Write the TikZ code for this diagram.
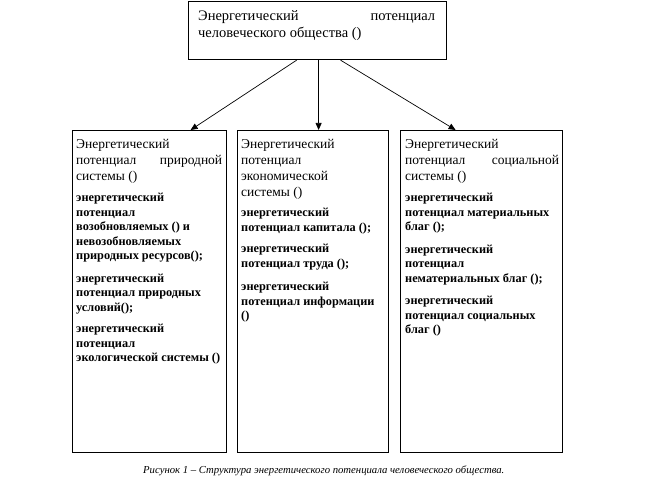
\documentclass[tikz,border=0pt]{standalone}
\usepackage{fontspec}
\setmainfont{Liberation Serif}
\usetikzlibrary{arrows.meta}
\setlength{\parindent}{0pt}
\newcommand{\regf}{\fontsize{13.5pt}{16pt}\selectfont}
\newcommand{\bldf}{\bfseries\fontsize{12.3pt}{14.5pt}\selectfont}
\newcommand{\topf}{\fontsize{14.5pt}{17pt}\selectfont}
\begin{document}
\begin{tikzpicture}[x=1pt,y=-1pt,
  box/.style={draw, line width=1.2pt, inner sep=0pt, anchor=north west},
  txt/.style={anchor=north west, inner sep=0pt, align=justify},
  arr/.style={-{Triangle[length=7pt,width=6pt]}, line width=0.7pt},
]
\useasboundingbox (0,0) rectangle (649,495);
\node[box, minimum width=258pt, minimum height=58pt] (top) at (188,1) {};
\node[txt, text width=237pt] (toptxt) at (198,10)
  {\topf Энергетический\hfill потенциал\\ человеческого общества ()\par};

\node[box, minimum width=154pt, minimum height=322pt] (lbox) at (72,130) {};
\node[box, minimum width=151pt, minimum height=322pt] (mbox) at (237,130) {};
\node[box, minimum width=162pt, minimum height=322pt] (rbox) at (400,130) {};

\node[txt, text width=146pt] (ltxt) at (76,139) {%
{\regf Энергетический\\ потенциал\hfill природной\\ системы ()\par}
\vspace{7pt}
{\bldf энергетический\\ потенциал\\ возобновляемых () и\\ невозобновляемых\\ природных ресурсов();\par}
\vspace{8pt}
{\bldf энергетический\\ потенциал природных\\ условий();\par}
\vspace{7pt}
{\bldf энергетический\\ потенциал\\ экологической системы ()\par}};

\node[txt, text width=143pt] (mtxt) at (241,139) {%
{\regf Энергетический\\ потенциал\\ экономической\\ системы ()\par}
\vspace{6pt}
{\bldf энергетический\\ потенциал капитала ();\par}
\vspace{7pt}
{\bldf энергетический\\ потенциал труда ();\par}
\vspace{9pt}
{\bldf энергетический\\ потенциал информации\\ ()\par}};

\node[txt, text width=154pt] (rtxt) at (405,139) {%
{\regf Энергетический\\ потенциал\hfill социальной\\ системы ()\par}
\vspace{7pt}
{\bldf энергетический\\ потенциал материальных\\ благ ();\par}
\vspace{8pt}
{\bldf энергетический\\ потенциал\\ нематериальных благ ();\par}
\vspace{8pt}
{\bldf энергетический\\ потенциал социальных\\ благ ()\par}};

\draw[arr] ([xshift=-21pt]top.south) -- ([xshift=41pt]lbox.north);
\draw[arr] ([xshift=1pt]top.south) -- ([xshift=1pt]top.south |- mbox.north);
\draw[arr] ([xshift=23pt]top.south) -- ([xshift=-26pt]rbox.north);

\node[anchor=base west, inner sep=0pt, font=\itshape\fontsize{10.7pt}{13pt}\selectfont] (cap) at (143,473)
  {Рисунок 1 – Структура энергетического потенциала человеческого общества.};
\end{tikzpicture}
\end{document}
